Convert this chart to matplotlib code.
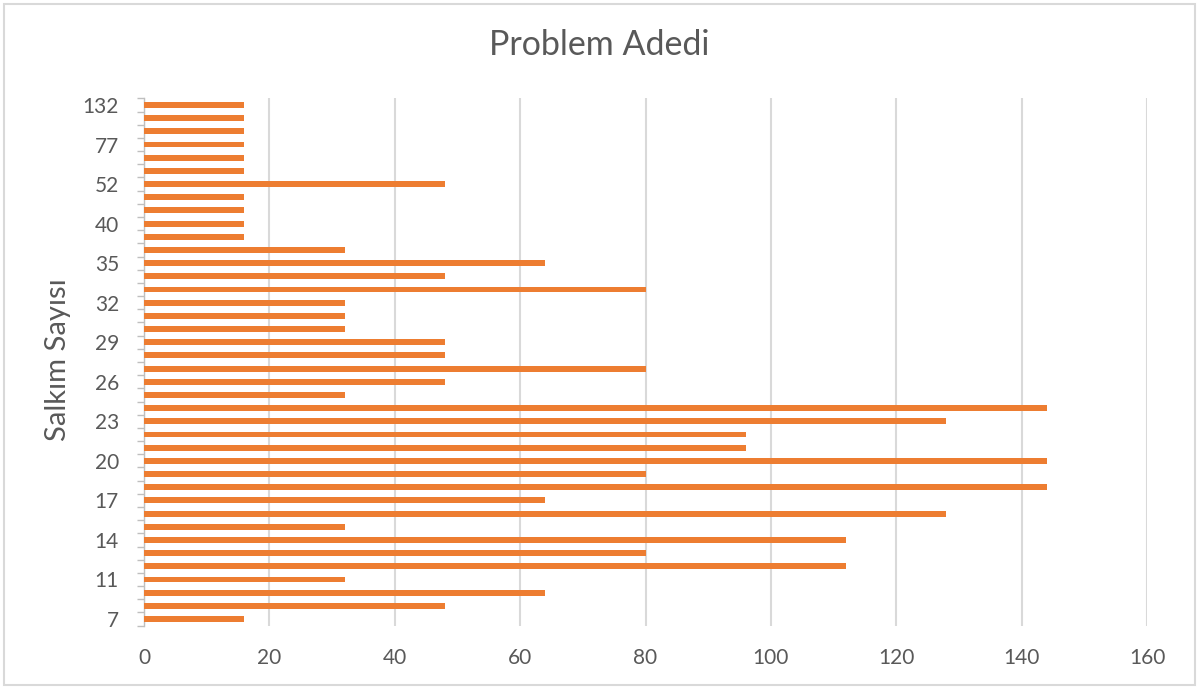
import numpy as np
import matplotlib.pyplot as plt
from matplotlib.patches import Rectangle

# salkım sayısı (kategoriler) ve problem adedi
salkim = [7, 9, 10, 11, 12, 13, 14, 15, 16, 17, 18, 19, 20, 21, 22, 23, 24, 25, 26, 27,
          28, 29, 30, 31, 32, 33, 34, 35, 36, 38, 40, 44, 48, 52, 60, 70, 77, 90, 110, 132]
problem = [16, 48, 64, 32, 112, 80, 112, 32, 128, 64, 144, 80, 144, 96, 96, 128, 144, 32, 48, 80,
           48, 48, 32, 32, 32, 80, 48, 64, 32, 16, 16, 16, 16, 48, 16, 16, 16, 16, 16, 16]
xticks = [0, 20, 40, 60, 80, 100, 120, 140, 160]

plt.rcParams['font.family'] = ['Lato', 'DejaVu Sans']
gri = '#595959'

fig = plt.figure(figsize=(12.03, 6.87), dpi=100)
ax = fig.add_axes([144 / 1203, 1 - 625.6 / 687, (1147 - 144) / 1203, (625.6 - 98.4) / 687])

pos = np.arange(len(salkim))
ax.barh(pos, problem, height=0.45, color='#ed7d31', zorder=3)

ax.set_xlim(0, 160)
ax.set_ylim(-0.5, len(salkim) - 0.5)
ax.set_xticks(xticks)
ax.xaxis.grid(True, color='#d9d9d9', linewidth=1.5, zorder=0)

# her üçüncü kategori etiketli, sınırlarda küçük çentikler
ax.set_yticks(pos[::3])
ax.set_yticklabels([str(s) for s in salkim[::3]])
ax.set_yticks(np.arange(-0.5, len(salkim)), minor=True)
ax.tick_params(axis='y', which='major', length=0, pad=18, labelsize=15, labelcolor=gri)
ax.tick_params(axis='y', which='minor', length=5, width=1, color='#bfbfbf', direction='out')
ax.tick_params(axis='x', length=0, pad=16, labelsize=15, labelcolor=gri)

for s in ['top', 'right', 'bottom']:
    ax.spines[s].set_visible(False)
ax.spines['left'].set_color('#bfbfbf')
ax.spines['left'].set_linewidth(1)

fig.text(599 / 1203, 1 - 45 / 687, 'Problem Adedi', ha='center', va='center', fontsize=24.5, color=gri)
fig.text(58 / 1203, 1 - 360 / 687, 'Salkım Sayısı', ha='center', va='center', rotation=90,
         fontsize=21, color=gri)

# çerçeve
fig.patches.append(Rectangle((3.5 / 1203, 2.5 / 687), 1191 / 1203, 681 / 687, transform=fig.transFigure,
                             fill=False, edgecolor='#d9d9d9', linewidth=1.5))

fig.savefig('out.png', dpi=100)
